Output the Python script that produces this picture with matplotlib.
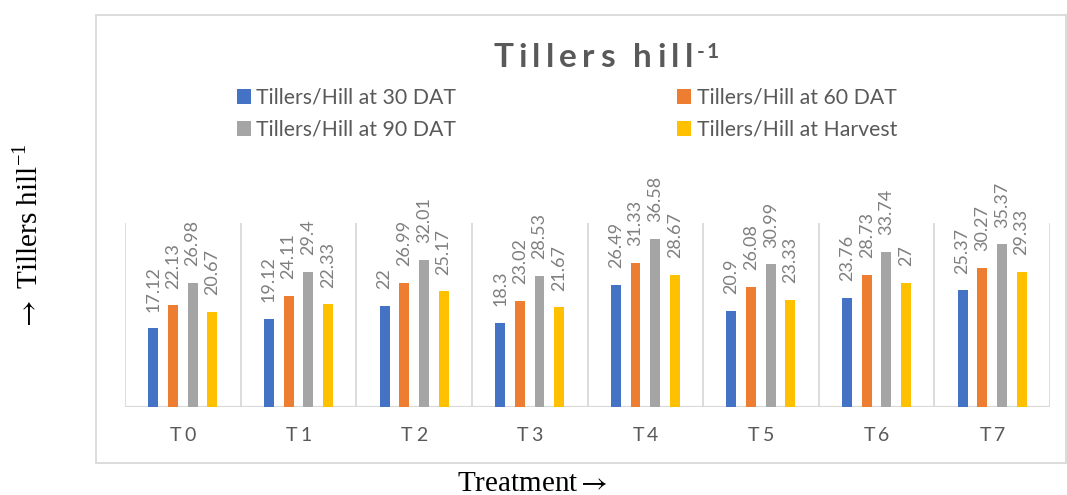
import matplotlib
matplotlib.use("Agg")
import matplotlib.pyplot as plt
import matplotlib.transforms as mtransforms
from matplotlib.patches import Rectangle, Patch
import numpy as np

# ---- data -------------------------------------------------------------
treatments = ["T0", "T1", "T2", "T3", "T4", "T5", "T6", "T7"]
tillers_30dat = [17.12, 19.12, 22, 18.3, 26.49, 20.9, 23.76, 25.37]
tillers_60dat = [22.13, 24.11, 26.99, 23.02, 31.33, 26.08, 28.73, 30.27]
tillers_90dat = [26.98, 29.4, 32.01, 28.53, 36.58, 30.99, 33.74, 35.37]
tillers_harvest = [20.67, 22.33, 25.17, 21.67, 28.67, 23.33, 27, 29.33]
series_labels = ["Tillers/Hill at 30 DAT", "Tillers/Hill at 60 DAT",
                 "Tillers/Hill at 90 DAT", "Tillers/Hill at Harvest"]
series_colors = ["#4472C4", "#ED7D31", "#A5A5A5", "#FFC000"]

series = [tillers_30dat, tillers_60dat, tillers_90dat, tillers_harvest]

plt.rcParams["mathtext.fontset"] = "stix"

W, H = 1067, 495
fig = plt.figure(figsize=(W / 100, H / 100), dpi=100)


def fx(px):
    return px / W


def fy(py):
    return 1 - py / H


renderer = fig.canvas.get_renderer()


def text_width(s, **kw):
    t = fig.text(0, 0, s, **kw)
    w = t.get_window_extent(renderer).width
    t.remove()
    return w


def tracked_text(xd, yd, s, spacing=None, total=None, ha="center", **kw):
    """Draw s with extra letter spacing at display coords (xd, yd)."""
    full = text_width(s, **kw)
    n = len(s)
    if total is not None:
        spacing = (total - full) / max(n - 1, 1)
    width = full + spacing * (n - 1)
    if ha == "center":
        x0 = xd - width / 2
    elif ha == "left":
        x0 = xd
    else:
        x0 = xd - width
    for i, ch in enumerate(s):
        if ch == " ":
            continue
        pos = text_width(s[: i + 1], **kw) - text_width(ch, **kw) + i * spacing
        fig.text(x0 + pos, yd, ch, transform=mtransforms.IdentityTransform(),
                 ha="left", **kw)
    return x0 + width


# outer chart frame
fig.patches.append(Rectangle((fx(96), fy(463)), fx(1066) - fx(96), fy(15) - fy(463),
                             transform=fig.transFigure, fill=False,
                             edgecolor="#d9d9d9", linewidth=1.3))

# ---- plot area --------------------------------------------------------
ax = fig.add_axes([fx(125), fy(407), fx(1050) - fx(125), fy(223) - fy(407)])
x = np.arange(len(treatments))
step = 0.17
width = 0.086
for i, (vals, col) in enumerate(zip(series, series_colors)):
    pos = x + (i - 1.5) * step
    ax.bar(pos, vals, width=width, color=col, zorder=3)
    for px, v in zip(pos, vals):
        ax.annotate(f"{v:g}", (px, v), xytext=(0, 12), textcoords="offset points",
                    rotation=90, ha="center", va="bottom", fontsize=13,
                    color="#7f7f7f", family="Lato")

ax.set_xlim(-0.5, len(treatments) - 0.5)
ax.set_ylim(0, 40)
for s in ax.spines.values():
    s.set_visible(False)
ax.set_xticks([])
ax.set_yticks([])
ax.vlines(np.arange(len(treatments) + 1) - 0.5, 0, 40, color="#d9d9d9",
          linewidth=1.3, zorder=1)
ax.axhline(0, color="#d9d9d9", linewidth=1.6, zorder=2)

# category labels
for xi, lab in zip(x, treatments):
    xd, _ = ax.transData.transform((xi, 0))
    tracked_text(xd, H - 441, lab, spacing=3, ha="center", fontsize=14,
                 family="Lato", color="#595959", va="baseline")

# ---- title --------------------------------------------------------------
end = tracked_text(493, H - 67, "Tillers hill", total=200, ha="left",
                   fontsize=24, family="Lato", fontweight="bold",
                   color="#595959", va="baseline")
tracked_text(end + 4, H - 58, "-1", spacing=2, ha="left", fontsize=15,
             family="Lato", fontweight="bold", color="#595959", va="baseline")

# ---- legend (filled row by row) -------------------------------------------
handles = [Patch(facecolor=c) for c in series_colors]
order = [0, 2, 1, 3]
fig.legend([handles[k] for k in order], [series_labels[k] for k in order],
           ncol=2, loc="upper left",
           bbox_to_anchor=(fx(237), fy(88)), frameon=False,
           handlelength=0.66, handleheight=0.66, handletextpad=0.25,
           columnspacing=10.4, labelspacing=0.56, borderpad=0, borderaxespad=0,
           prop={"family": "Lato", "size": 15.3}, labelcolor="#595959")

# ---- axis titles --------------------------------------------------------
fig.text(fx(30), fy(237), r"$\rightarrow$ Tillers hill$^{\mathregular{-1}}$",
         rotation=90, ha="center", va="center", fontsize=21,
         family="Liberation Serif", color="black")
fig.text(fx(532), fy(491), r"Treatment$\rightarrow$", ha="center", va="baseline",
         fontsize=21, family="Liberation Serif", color="black")

fig.savefig("out.png", dpi=100)
